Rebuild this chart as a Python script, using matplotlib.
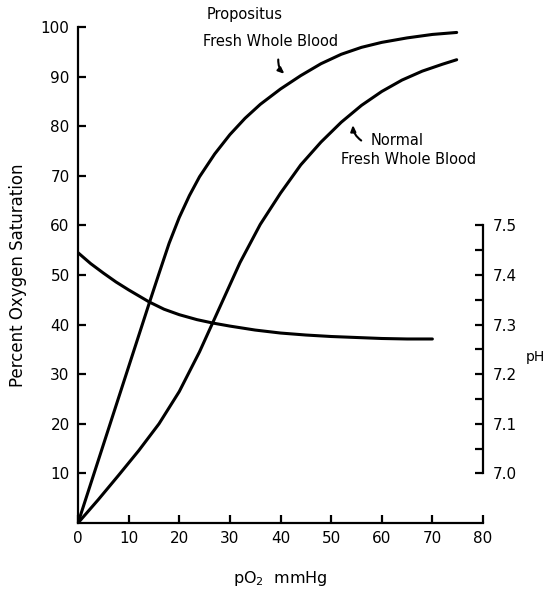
import matplotlib
matplotlib.use("Agg")
import matplotlib.pyplot as plt
from matplotlib.ticker import FormatStrFormatter

# values
po2_prop = [0, 2, 4, 6, 8, 10, 12, 14, 16, 18, 20, 22, 24, 27, 30, 33, 36, 40,
            44, 48, 52, 56, 60, 65, 70, 74.8]
sat_prop = [0, 6.3, 12.6, 18.9, 25.2, 31.5, 37.8, 44.1, 50.3, 56.4, 61.6, 66.0, 69.8,
            74.4, 78.3, 81.6, 84.4, 87.5, 90.2, 92.6, 94.5, 95.9, 96.9, 97.8, 98.5, 98.9]

po2_norm = [0, 4, 8, 12, 16, 20, 24, 28, 32, 36, 40, 44, 48, 52, 56, 60, 64, 68, 72, 74.8]
sat_norm = [0, 4.7, 9.6, 14.6, 20, 26.5, 34.5, 43.5, 52.5, 60.2, 66.5, 72.2, 76.8,
            80.8, 84.2, 87.0, 89.3, 91.1, 92.5, 93.4]

po2_ph = [0, 2.5, 5, 7.5, 10, 14, 17, 20, 23.5, 26.7, 30, 35, 40, 45, 50, 55, 60, 65, 70]
ph_vals = [7.445, 7.423, 7.404, 7.386, 7.37, 7.346, 7.331, 7.32, 7.31, 7.303, 7.297,
           7.289, 7.283, 7.279, 7.276, 7.274, 7.272, 7.271, 7.271]

x_ticks = list(range(0, 81, 10))
y_ticks = list(range(10, 101, 10))
ph_ticks = [7.0, 7.1, 7.2, 7.3, 7.4, 7.5]
ph_minor = [7.05, 7.15, 7.25, 7.35, 7.45]

plt.rcParams["font.family"] = "DejaVu Sans"

fig = plt.figure(figsize=(5.46, 5.89), dpi=100)
ax = fig.add_axes([78 / 546, 66 / 589, 405 / 546, 496 / 589])
lw = 2.2

ax.plot(po2_prop, sat_prop, color="black", lw=lw, solid_capstyle="round", solid_joinstyle="round")
ax.plot(po2_norm, sat_norm, color="black", lw=lw, solid_capstyle="round", solid_joinstyle="round")

ax.set_xlim(0, 80)
ax.set_ylim(0, 100)
ax.set_xticks(x_ticks)
ax.set_yticks(y_ticks)
for side in ("top", "right"):
    ax.spines[side].set_visible(False)
for side in ("left", "bottom"):
    ax.spines[side].set_linewidth(1.6)
ax.tick_params(direction="in", length=6, width=1.6, labelsize=11, pad=6)
ax.set_xlabel("pO$_2$  mmHg", fontsize=11.5, labelpad=16)
ax.set_ylabel("Percent Oxygen Saturation", fontsize=12, labelpad=10)

# pH scale: 7.0 sits at 10 % and 7.5 at 60 %
ax2 = ax.twinx()
ax2.set_ylim(6.9, 7.9)
ax2.plot(po2_ph, ph_vals, color="black", lw=lw, solid_capstyle="round", solid_joinstyle="round")
for side in ("top", "left", "bottom"):
    ax2.spines[side].set_visible(False)
ax2.spines["right"].set_bounds(7.0, 7.5)
ax2.spines["right"].set_linewidth(1.6)
ax2.set_yticks(ph_ticks)
ax2.set_yticks(ph_minor, minor=True)
ax2.yaxis.set_major_formatter(FormatStrFormatter("%.1f"))
ax2.tick_params(which="both", direction="in", length=6, width=1.6, labelsize=11, pad=7)
ax2.set_ylabel("pH", rotation=0, fontsize=10, va="center", ha="center")
ax2.yaxis.set_label_coords(1.13, 0.335)

# curve labels
ax.text(33, 102.6, "Propositus", ha="center", va="center", fontsize=10.5, clip_on=False)
ax.text(38.1, 97, "Fresh Whole Blood", ha="center", va="center", fontsize=10.5, clip_on=False)
ax.annotate("", xy=(41.2, 90.2), xytext=(39.6, 94.0),
            arrowprops=dict(arrowstyle="-|>,head_length=0.35,head_width=0.15",
                            color="black", lw=1.5, connectionstyle="arc3,rad=0.3"))
ax.text(63, 77.2, "Normal", ha="center", va="center", fontsize=10.5)
ax.text(65.2, 73.2, "Fresh Whole Blood", ha="center", va="center", fontsize=10.5)
ax.annotate("", xy=(54.3, 80.8), xytext=(56.4, 76.8),
            arrowprops=dict(arrowstyle="-|>,head_length=0.35,head_width=0.15",
                            color="black", lw=1.5, connectionstyle="arc3,rad=-0.3"))

fig.savefig("out.png", dpi=100)
